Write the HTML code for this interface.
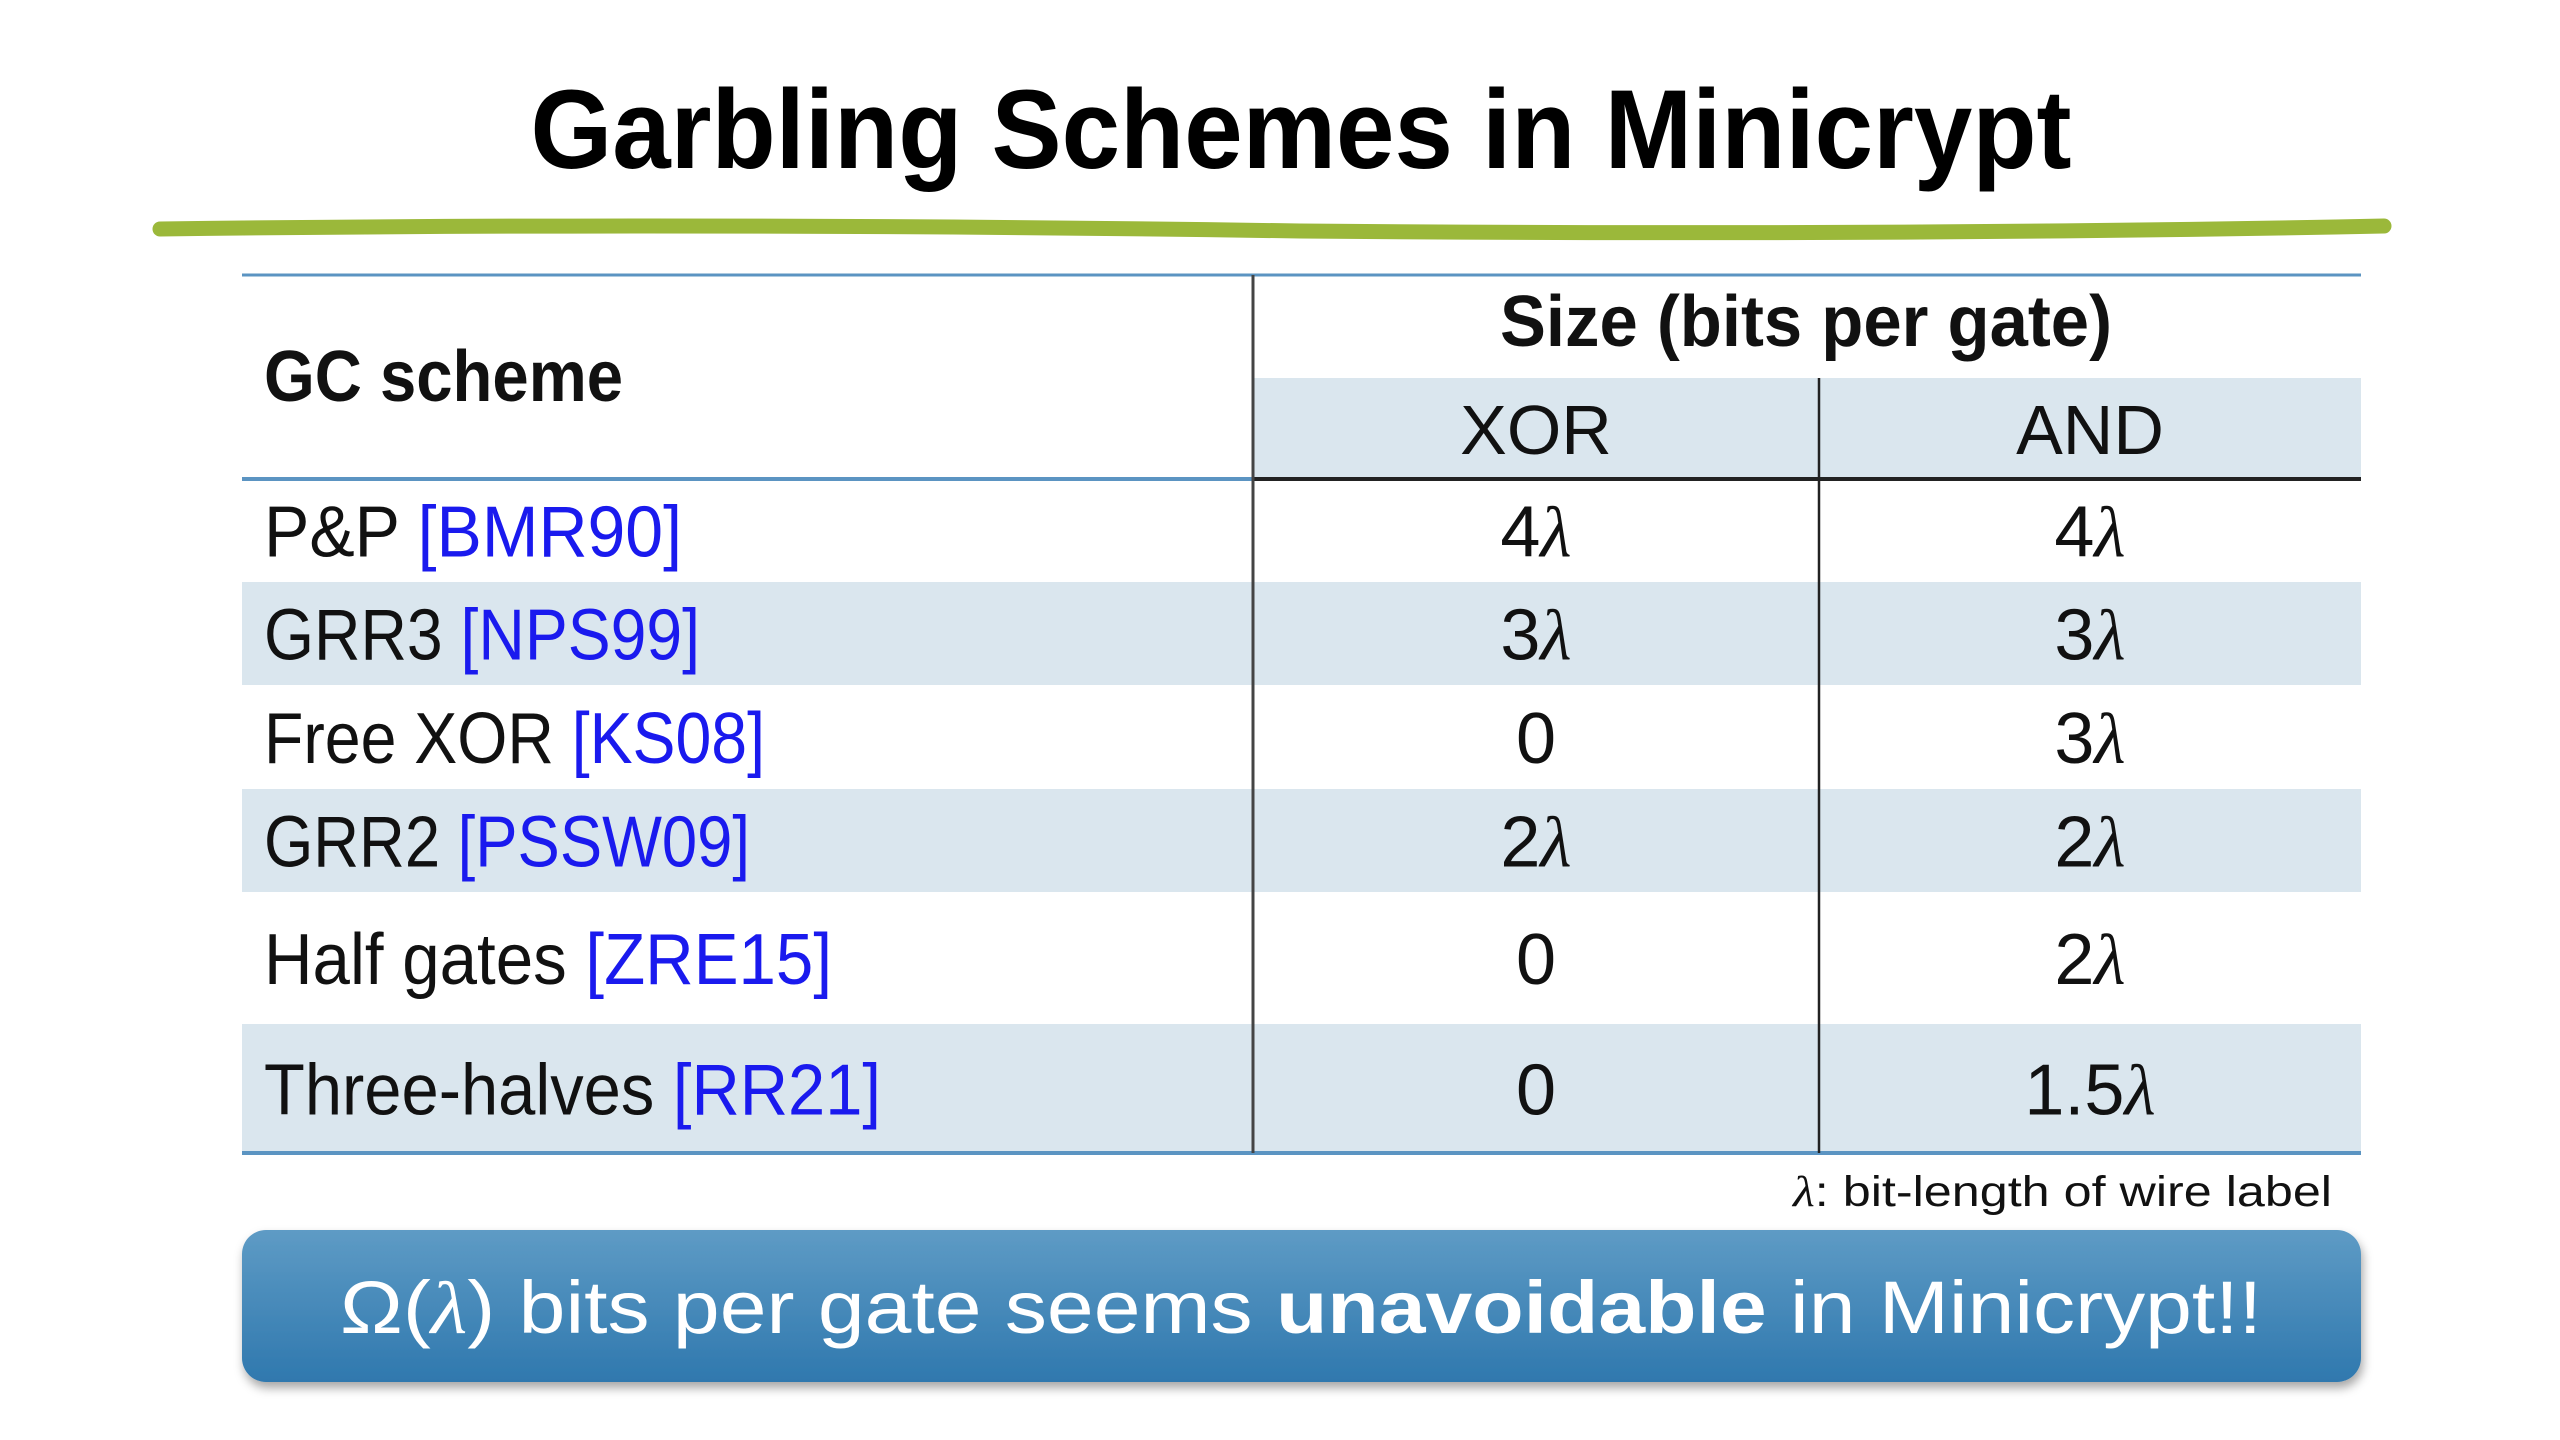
<!DOCTYPE html>
<html><head><meta charset="utf-8">
<style>
html,body{margin:0;padding:0;background:#fff;}
svg{display:block;}
text{font-family:"Liberation Sans",sans-serif;}
</style></head>
<body>
<svg id="slide" width="2560" height="1440" viewBox="0 0 2560 1440" xmlns="http://www.w3.org/2000/svg">
<defs>
<linearGradient id="boxGrad" x1="0" y1="0" x2="0" y2="1">
<stop offset="0" stop-color="#5e9bc5"/><stop offset="1" stop-color="#2f78ae"/>
</linearGradient>
<filter id="shadow" x="-5%" y="-20%" width="110%" height="150%"><feDropShadow dx="2" dy="6" stdDeviation="5" flood-color="#000" flood-opacity="0.35"/></filter>
</defs>
<text x="1301" y="168" text-anchor="middle" font-size="112" font-weight="bold" fill="#000" textLength="1541" lengthAdjust="spacingAndGlyphs">Garbling Schemes in Minicrypt</text>
<path d="M160 229 Q700 222 1300 231 Q1900 236 2384 226" stroke="#9bb83a" stroke-width="15" stroke-linecap="round" fill="none"/>
<g id="table"></g>
<text x="2332" y="1206" text-anchor="end" font-size="43" fill="#111" textLength="539" lengthAdjust="spacingAndGlyphs"><tspan font-family="Liberation Serif" font-style="italic">λ</tspan>:   bit-length of wire label</text>
<rect x="242" y="1230" width="2119" height="152" rx="24" fill="url(#boxGrad)" filter="url(#shadow)"/>
<text x="1301" y="1333" text-anchor="middle" font-size="74" fill="#fff" textLength="1922" lengthAdjust="spacingAndGlyphs">Ω(<tspan font-family="Liberation Serif" font-style="italic">λ</tspan>) bits per gate seems <tspan font-weight="bold">unavoidable</tspan> in Minicrypt!!</text>
</svg>
<script>
const schemes = ["P&P", "GRR3", "Free XOR", "GRR2", "Half gates", "Three-halves"];
const refs = ["[BMR90]", "[NPS99]", "[KS08]", "[PSSW09]", "[ZRE15]", "[RR21]"];
const xorVals = ["4λ", "3λ", "0", "2λ", "0", "0"];
const andVals = ["4λ", "3λ", "3λ", "2λ", "2λ", "1.5λ"];
const labelWidths = [418, 436, 501, 486, 568, 617];

const NS = "http://www.w3.org/2000/svg";
const g = document.getElementById("table");
const L = 242, R = 2361, C1 = 1253, C2 = 1819, TOP = 275, SUB = 378, HB = 479;
const rowB = [479, 582, 685, 789, 892, 1024, 1153];
function mk(tag, attrs) { const e = document.createElementNS(NS, tag); for (const k in attrs) e.setAttribute(k, attrs[k]); g.appendChild(e); return e; }

// header sub-row shading
let hs = mk("rect", {x: C1, y: SUB, width: R - C1, height: HB - SUB, fill: "#dae6ee"});



schemes.forEach((s, i) => {
  const y0 = rowB[i], y1 = rowB[i + 1];
  if (i % 2 === 1) {
    const r = mk("rect", {x: L, y: y0, width: R - L, height: y1 - y0, fill: "#dae6ee"});
    
    
  }
  const base = (y0 + y1) / 2 + 26;
  const t = mk("text", {x: 264, y: base, "font-size": 72, fill: "#111", textLength: labelWidths[i], lengthAdjust: "spacingAndGlyphs"});
  
  
  t.appendChild(document.createTextNode(s + " "));
  const ts = document.createElementNS(NS, "tspan");
  ts.setAttribute("fill", "#1a1aee");
  ts.textContent = refs[i];
  t.appendChild(ts);
  [[xorVals[i], 1536], [andVals[i], 2090]].forEach(([v, cx], j) => {
    const vt = mk("text", {x: cx, y: base, "text-anchor": "middle", "font-size": 72, fill: "#111"});
    
    
    const m = v.match(/^(.*?)(λ?)$/);
    vt.appendChild(document.createTextNode(m[1]));
    if (m[2]) { const ls = document.createElementNS(NS, "tspan"); ls.setAttribute("font-family", "Liberation Serif"); ls.setAttribute("font-style", "italic"); ls.textContent = "λ"; vt.appendChild(ls); }
  });
});

// headers
let h1 = mk("text", {x: 264, y: 401, "font-size": 72, "font-weight": "bold", fill: "#111", textLength: 359, lengthAdjust: "spacingAndGlyphs"});


h1.textContent = "GC scheme";
let h2 = mk("text", {x: 1806, y: 346, "text-anchor": "middle", "font-size": 72, "font-weight": "bold", fill: "#111", textLength: 612, lengthAdjust: "spacingAndGlyphs"});


h2.textContent = "Size (bits per gate)";
let h3 = mk("text", {x: 1536, y: 454, "text-anchor": "middle", "font-size": 70, fill: "#111"});


h3.textContent = "XOR";
let h4 = mk("text", {x: 2090, y: 454, "text-anchor": "middle", "font-size": 70, fill: "#111"});


h4.textContent = "AND";

// lines
let l1 = mk("line", {x1: L, y1: TOP, x2: R, y2: TOP, stroke: "#5b94c2", "stroke-width": 3});


let l2 = mk("line", {x1: L, y1: HB, x2: C1, y2: HB, stroke: "#5b94c2", "stroke-width": 4});


let l3 = mk("line", {x1: C1, y1: HB, x2: R, y2: HB, stroke: "#222", "stroke-width": 4});


let l4 = mk("line", {x1: L, y1: rowB[6], x2: R, y2: rowB[6], stroke: "#5b94c2", "stroke-width": 4});


let v1 = mk("line", {x1: C1, y1: TOP, x2: C1, y2: rowB[6], stroke: "#444", "stroke-width": 3});


let v2 = mk("line", {x1: C2, y1: SUB, x2: C2, y2: rowB[6], stroke: "#222", "stroke-width": 2.5});


</script>
</body></html>
